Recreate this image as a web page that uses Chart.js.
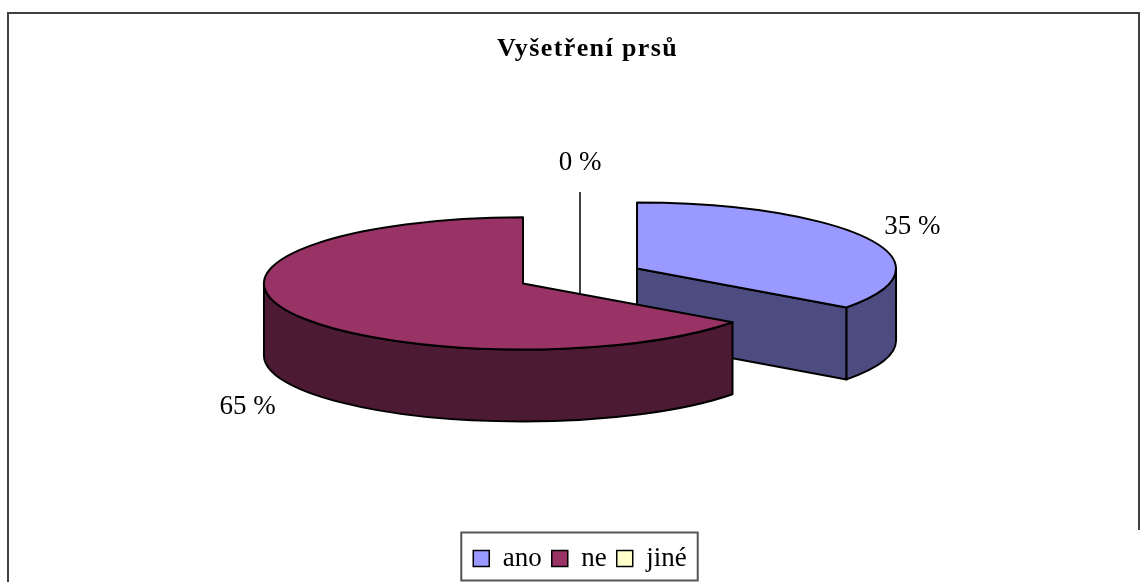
<!DOCTYPE html>
<html>
<head>
<meta charset="utf-8">
<script src="https://cdn.jsdelivr.net/npm/chart.js@4/dist/chart.umd.min.js"></script>
<style>
html,body{margin:0;padding:0;background:#fff;}
#wrap{width:1146px;height:582px;position:relative;}
canvas{display:block;}
</style>
</head>
<body>
<div id="wrap"><canvas id="c" width="1146" height="582"></canvas></div>
<script>
// ---- data ----
const chartTitle = 'Vyšetření prsů';
const categories = ['ano', 'ne', 'jiné'];
const values = [35, 65, 0];
const percentLabels = ['35 %', '65 %', '0 %'];

// ---- styles ----
const topColors = ['#9999FF', '#993366', '#FFFFCC'];
const sideColors = ['#4C4C80', '#4D1A33', '#80806A'];
const FONT = "'Liberation Serif', 'Times New Roman', serif";
const TILT = 0.255;     // vertical squash of the pie (ry / rx)
const DEPTH = 72;       // thickness of the 3D pie in px
const RADIUS = 259;
const EXPLODE = 64;     // explode distance of each non-empty slice

function pivotY(chart) { return (chart.chartArea.top + chart.chartArea.bottom) / 2; }

function geom(arc, pivot) {
  const p = arc.getProps(['x', 'y', 'startAngle', 'endAngle', 'outerRadius', 'circumference'], true);
  return {
    cx: p.x,
    cy: pivot + (p.y - pivot) * TILT,
    s: p.startAngle, e: p.endAngle, half: (p.startAngle + p.endAngle) / 2,
    R: p.outerRadius, ry: p.outerRadius * TILT,
    circ: p.circumference
  };
}
function pt(g, t, dy) { return [g.cx + g.R * Math.cos(t), g.cy + g.ry * Math.sin(t) + (dy || 0)]; }

function drawWalls(ctx, g, color) {
  if (!(g.circ > 0)) return;
  ctx.save();
  ctx.fillStyle = color;
  ctx.strokeStyle = '#000';
  ctx.lineWidth = 2;
  ctx.lineJoin = 'round';
  const faces = [];
  if (Math.cos(g.s) < -1e-6) faces.push(g.s);
  if (Math.cos(g.e) > 1e-6) faces.push(g.e);
  faces.forEach(t => {
    const p = pt(g, t);
    ctx.beginPath();
    ctx.moveTo(g.cx, g.cy);
    ctx.lineTo(p[0], p[1]);
    ctx.lineTo(p[0], p[1] + DEPTH);
    ctx.lineTo(g.cx, g.cy + DEPTH);
    ctx.closePath();
    ctx.fill(); ctx.stroke();
  });
  for (let k = -1; k <= 2; k++) {
    const a = Math.max(g.s, 2 * Math.PI * k);
    const b = Math.min(g.e, 2 * Math.PI * k + Math.PI);
    if (b > a) {
      const pa = pt(g, a), pb = pt(g, b);
      ctx.beginPath();
      ctx.moveTo(pa[0], pa[1]);
      ctx.ellipse(g.cx, g.cy, g.R, g.ry, 0, a, b);
      ctx.lineTo(pb[0], pb[1] + DEPTH);
      ctx.ellipse(g.cx, g.cy + DEPTH, g.R, g.ry, 0, b, a, true);
      ctx.closePath();
      ctx.fill(); ctx.stroke();
    }
  }
  ctx.restore();
}

const pie3d = {
  id: 'pie3d',
  afterDatasetsUpdate(chart) {
    chart.getDatasetMeta(0).data.forEach((arc, i) => {
      if (!values[i]) return;
      const half = (arc.startAngle + arc.endAngle) / 2;
      arc.x += Math.cos(half) * EXPLODE;
      arc.y += Math.sin(half) * EXPLODE;
    });
  },
  beforeDraw(chart) {
    const ctx = chart.ctx;
    ctx.save();
    ctx.fillStyle = '#fff';
    ctx.fillRect(0, 0, chart.width, chart.height);
    ctx.strokeStyle = '#404040';
    ctx.lineWidth = 2;
    ctx.beginPath();
    ctx.moveTo(8, 582);
    ctx.lineTo(8, 13);
    ctx.lineTo(1139, 13);
    ctx.lineTo(1139, 530);
    ctx.stroke();
    ctx.restore();
  },
  beforeDatasetsDraw(chart) {
    const ctx = chart.ctx;
    const pivot = pivotY(chart);
    const gs = chart.getDatasetMeta(0).data.map(a => geom(a, pivot));
    const order = gs.map((g, i) => i).sort((a, b) => gs[a].cy - gs[b].cy);
    order.forEach(i => drawWalls(ctx, gs[i], sideColors[i]));
    ctx.save();
    ctx.strokeStyle = '#000';
    ctx.lineWidth = 1.5;
    gs.forEach((g, i) => {
      if (values[i] === 0) {
        const rim = pt(g, g.half);
        ctx.beginPath();
        ctx.moveTo(rim[0], rim[1] - 18);
        ctx.lineTo(g.cx, g.cy + 24);
        ctx.stroke();
      }
    });
    ctx.restore();
    ctx.save();
    ctx.translate(0, pivot);
    ctx.scale(1, TILT);
    ctx.translate(0, -pivot);
  },
  afterDatasetsDraw(chart) {
    const ctx = chart.ctx;
    ctx.restore();
    const pivot = pivotY(chart);
    const gs = chart.getDatasetMeta(0).data.map(a => geom(a, pivot));
    ctx.save();
    ctx.strokeStyle = '#000';
    ctx.lineWidth = 2;
    ctx.lineJoin = 'round';
    gs.forEach(g => {
      if (!(g.circ > 0)) return;
      const ps = pt(g, g.s);
      ctx.beginPath();
      ctx.moveTo(g.cx, g.cy);
      ctx.lineTo(ps[0], ps[1]);
      ctx.ellipse(g.cx, g.cy, g.R, g.ry, 0, g.s, g.e);
      ctx.closePath();
      ctx.stroke();
    });
    ctx.fillStyle = '#000';
    ctx.font = '27px ' + FONT;
    ctx.textAlign = 'center';
    ctx.textBaseline = 'middle';
    gs.forEach((g, i) => {
      const rim = pt(g, g.half);
      let lx, ly;
      if (values[i] === 0) {
        lx = rim[0]; ly = rim[1] - 47;
      } else {
        const sn = Math.sin(g.half), cs = Math.cos(g.half);
        lx = rim[0] + cs * 50;
        ly = rim[1] + (sn > 0 ? sn * 48 + DEPTH : sn * 26);
      }
      ctx.fillText(percentLabels[i], lx, ly);
    });
    ctx.restore();
  },
  afterDraw(chart) {
    const ctx = chart.ctx;
    ctx.save();
    ctx.fillStyle = '#000';
    ctx.font = 'bold 26px ' + FONT;
    ctx.textAlign = 'left';
    ctx.textBaseline = 'alphabetic';
    try { ctx.letterSpacing = '1.4px'; } catch (e) {}
    ctx.fillText(chartTitle, 497, 56);
    try { ctx.letterSpacing = '0px'; } catch (e) {}
    const hb = chart.legend.legendHitBoxes;
    if (hb && hb.length) {
      const first = hb[0], last = hb[hb.length - 1];
      const cyL = first.top + first.height / 2;
      const l = first.left - 12, r = last.left + last.width + 11;
      ctx.strokeStyle = '#555';
      ctx.lineWidth = 2;
      ctx.strokeRect(l, cyL - 26, r - l, 48);
    }
    ctx.restore();
  }
};

new Chart(document.getElementById('c'), {
  type: 'pie',
  data: {
    labels: categories,
    datasets: [{
      data: values,
      backgroundColor: topColors,
      borderWidth: 0,
      clip: false
    }]
  },
  options: {
    responsive: false,
    animation: false,
    events: [],
    radius: RADIUS,
    layout: { padding: { left: 14, right: 0, top: 17, bottom: 0 } },
    plugins: {
      title: { display: false },
      tooltip: { enabled: false },
      legend: {
        display: true,
        position: 'bottom',
        labels: {
          color: '#000',
          font: { family: FONT, size: 27 },
          boxWidth: 16,
          boxHeight: 16,
          padding: 10,
          generateLabels(chart) {
            const items = Chart.overrides.pie.plugins.legend.labels.generateLabels(chart);
            return items.map(it => Object.assign({}, it, { strokeStyle: '#000', lineWidth: 1.5, hidden: false }));
          }
        }
      }
    }
  },
  plugins: [pie3d]
});
</script>
</body>
</html>
